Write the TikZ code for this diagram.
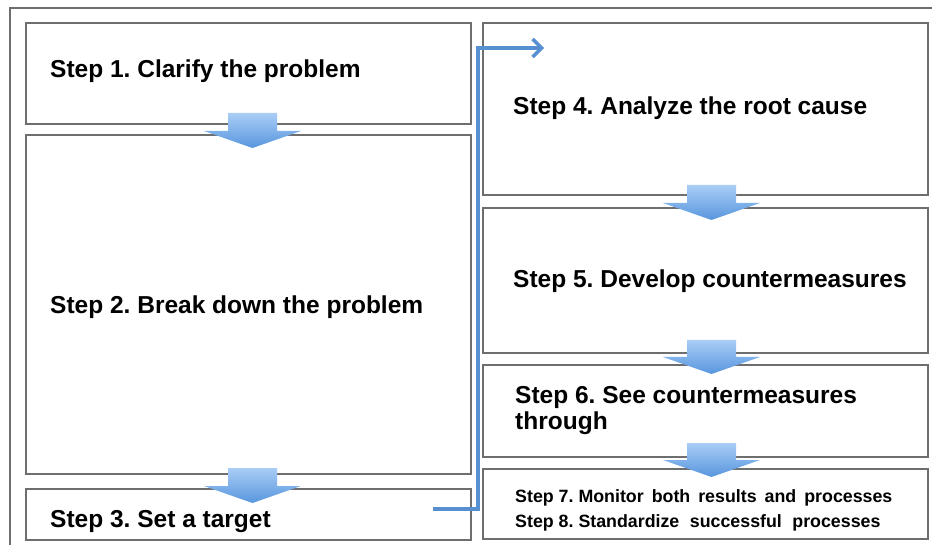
\documentclass[tikz,border=0pt]{standalone}
\usepackage{fontspec}
\setmainfont{Liberation Sans}
\usetikzlibrary{arrows.meta}
\frenchspacing
\definecolor{framegray}{HTML}{6E6E6E}
\definecolor{conblue}{HTML}{5690D0}
\definecolor{arrtop}{HTML}{A9CDF6}
\definecolor{arrbot}{HTML}{5896DE}
\tikzset{
  stepbox/.style={draw=framegray, line width=1.3pt, fill=white, rectangle, inner sep=0pt},
  steptext/.style={anchor=base west, inner sep=0pt, font=\fontsize{24.5}{28}\selectfont\bfseries},
  smalltext/.style={anchor=base west, inner sep=0pt, font=\fontsize{17.8}{21}\selectfont\bfseries},
  blockarrow/.style={top color=arrtop, bottom color=arrbot, draw=none},
  connector/.style={draw=conblue, line width=3.5pt, -{Straight Barb[length=9pt, width=18pt, line width=3.5pt]}},
}
\newcommand{\blockarrow}[3]{% x center, shaft top, head base
  \pgfmathsetmacro{\tipy}{#3+17}
  \shade[blockarrow] (#1-24.5,#2) -- (#1+24.5,#2) -- (#1+24.5,#3) -- (#1+48.5,#3)
     -- (#1,\tipy) -- (#1-48.5,#3) -- (#1-24.5,#3) -- cycle;
}
\newcommand{\ws}{\hspace{8pt}}
\newcommand{\wsb}{\hspace{10.5pt}}
\begin{document}
\begin{tikzpicture}[x=1pt,y=-1pt]
\useasboundingbox (0,0) rectangle (932,545);
\fill[white] (0,0) rectangle (932,545);
% outer frame
\draw[framegray, line width=1.3pt] (10,545) -- (10,8) -- (932,8);
% left column boxes
\node[stepbox, minimum width=445pt, minimum height=101pt] (b1) at (248.5,73.5) {};
\node[stepbox, minimum width=445pt, minimum height=339pt] (b2) at (248.5,304.5) {};
\node[stepbox, minimum width=445pt, minimum height=51pt] (b3) at (248.5,514.5) {};
% right column boxes
\node[stepbox, minimum width=445pt, minimum height=172pt] (b4) at (705.5,109) {};
\node[stepbox, minimum width=445pt, minimum height=145pt] (b5) at (705.5,280.5) {};
\node[stepbox, minimum width=445pt, minimum height=92pt] (b6) at (705.5,411) {};
\node[stepbox, minimum width=445pt, minimum height=70pt] (b7) at (705.5,504) {};
% block arrows
\blockarrow{252.5}{113}{131}
\blockarrow{252.5}{468}{486}
\blockarrow{711.5}{185}{203}
\blockarrow{711.5}{340}{357}
\blockarrow{711.5}{443}{460}
% texts
\node[steptext] (t1) at (50,78) {Step 1. Clarify the problem};
\node[steptext] (t2) at (50,314) {Step 2. Break down the problem};
\node[steptext] (t3) at (50,527) {Step 3. Set a target};
\node[steptext] (t4) at (513,115) {Step 4. Analyze the root cause};
\node[steptext] (t5) at (513,288) {Step 5. Develop countermeasures};
\node[steptext] (t6a) at (515,403) {Step 6. See countermeasures};
\node[steptext] (t6b) at (515,429) {through};
\node[smalltext] (t7) at (515,502) {Step 7. Monitor\ws both\ws results\ws and\ws processes};
\node[smalltext] (t8) at (515,527) {Step 8. Standardize\wsb successful\wsb processes};
% connector
\coordinate (cs) at (433,509);
\coordinate (ce) at (544,48);
\draw[connector] (cs) -- (478,509) -- (478,48) -- (ce);
\end{tikzpicture}
\end{document}
